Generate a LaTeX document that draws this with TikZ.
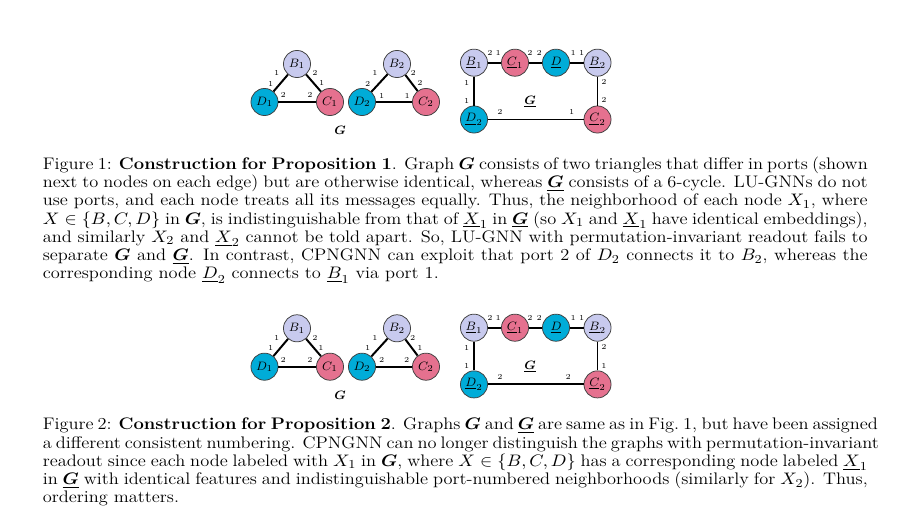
\documentclass[tikz,border=0pt]{standalone}
\usepackage{amsmath,amssymb,bm,graphicx}
\definecolor{nodeB}{RGB}{200,202,238}
\definecolor{nodeC}{RGB}{229,113,143}
\definecolor{nodeD}{RGB}{0,172,216}
\newcommand{\capline}[1]{\scalebox{1.1}[1]{\makebox[493.1pt][s]{#1}}}
\newcommand{\caplast}[1]{\scalebox{1.1}[1]{#1}}
\begin{document}
\begin{tikzpicture}[x=0.6575pt,y=-0.6575pt,
  vtx/.style={circle,draw=black!75,line width=0.5pt,minimum size=17.8pt,inner sep=0pt,font=\footnotesize},
  bv/.style={vtx,fill=nodeB}, cv/.style={vtx,fill=nodeC}, dv/.style={vtx,fill=nodeD},
  edge/.style={line width=1.3pt,black},
  port/.style={font=\tiny,inner sep=0pt},
  glabel/.style={font=\footnotesize,inner sep=0pt},
  caption/.style={anchor=base west,inner sep=0pt,align=left,font=\fontsize{11}{12}\selectfont}]
\useasboundingbox (0,0) rectangle (905,524);

% ---------------- Figure 1 ----------------
\node[bv] (aB1) at (297,64) {$B_1$};
\node[dv] (aD1) at (264.5,102) {$D_1$};
\node[cv] (aC1) at (330,102) {$C_1$};
\node[bv] (aB2) at (397,64) {$B_2$};
\node[dv] (aD2) at (362,102) {$D_2$};
\node[cv] (aC2) at (426,102) {$C_2$};
\draw[edge] (aB1) -- (aD1);
\draw[edge] (aB1) -- (aC1);
\draw[edge] (aD1) -- (aC1);
\draw[edge] (aB2) -- (aD2);
\draw[edge] (aB2) -- (aC2);
\draw[edge] (aD2) -- (aC2);
\node[port] (ap1) at (276.7,73.3) {1};
\node[port] (ap2) at (270.7,84) {1};
\node[port] (ap3) at (315,73.3) {2};
\node[port] (ap4) at (321.7,83.3) {1};
\node[port] (ap5) at (283.3,95) {2};
\node[port] (ap6) at (310,95) {2};
\node[port] (ap7) at (375,73.3) {1};
\node[port] (ap8) at (367.7,84) {2};
\node[port] (ap9) at (413.3,73.3) {2};
\node[port] (ap10) at (420,83.3) {2};
\node[port] (ap11) at (381.7,96) {1};
\node[port] (ap12) at (407.3,96) {1};
\node[glabel] (aG) at (340,130) {$\bm{G}$};

\node[bv] (uB1) at (474,62.7) {$\underline{B}_1$};
\node[cv] (uC1) at (515,62.7) {$\underline{C}_1$};
\node[dv] (uD) at (556,62.7) {$\underline{D}$};
\node[bv] (uB2) at (597.5,62.7) {$\underline{B}_2$};
\node[dv] (uD2) at (474,119.5) {$\underline{D}_2$};
\node[cv] (uC2) at (597.5,119.5) {$\underline{C}_2$};
\draw[edge] (uB1) -- (uC1);
\draw[edge] (uC1) -- (uD);
\draw[edge] (uD) -- (uB2);
\draw[edge] (uB2) -- (uC2);
\draw[edge] (uC2) -- (uD2);
\draw[edge] (uD2) -- (uB1);
\node[port] (up1) at (490,53.3) {2};
\node[port] (up2) at (498.3,53.3) {1};
\node[port] (up3) at (530,53.3) {2};
\node[port] (up4) at (539.3,53.3) {2};
\node[port] (up5) at (573.3,53.3) {1};
\node[port] (up6) at (581.7,53.3) {1};
\node[port] (up7) at (466.7,82.7) {1};
\node[port] (up8) at (466.7,100.7) {1};
\node[port] (up9) at (604,81.7) {2};
\node[port] (up10) at (604,100) {2};
\node[port] (up11) at (500,111.7) {2};
\node[port] (up12) at (571.7,111.7) {1};
\node[glabel] (uG) at (530,101.7) {$\underline{\bm{G}}$};

\node[caption] (cap1) at (42.5,279) {%
\capline{Figure 1: \textbf{Construction for Proposition 1}. Graph $\bm{G}$ consists of two triangles that differ in ports (shown}\\
\capline{next to nodes on each edge) but are otherwise identical, whereas $\underline{\bm{G}}$ consists of a 6-cycle. LU-GNNs do not}\\
\capline{use ports, and each node treats all its messages equally. Thus, the neighborhood of each node $X_1$, where}\\
\capline{$X\in\{B,C,D\}$ in $\bm{G}$, is indistinguishable from that of $\underline{X}_1$ in $\underline{\bm{G}}$ (so $X_1$ and $\underline{X}_1$ have identical embeddings),}\\
\capline{and similarly $X_2$ and $\underline{X}_2$ cannot be told apart. So, LU-GNN with permutation-invariant readout fails to}\\
\capline{separate $\bm{G}$ and $\underline{\bm{G}}$. In contrast, CPNGNN can exploit that port 2 of $D_2$ connects it to $B_2$, whereas the}\\
\caplast{corresponding node $\underline{D}_2$ connects to $\underline{B}_1$ via port 1.}};

% ---------------- Figure 2 ----------------
\node[bv] (bB1) at (297,328.3) {$B_1$};
\node[dv] (bD1) at (264.5,366.7) {$D_1$};
\node[cv] (bC1) at (330,366.7) {$C_1$};
\node[bv] (bB2) at (397,328.3) {$B_2$};
\node[dv] (bD2) at (362,366.7) {$D_2$};
\node[cv] (bC2) at (426,366.7) {$C_2$};
\draw[edge] (bB1) -- (bD1);
\draw[edge] (bB1) -- (bC1);
\draw[edge] (bD1) -- (bC1);
\draw[edge] (bB2) -- (bD2);
\draw[edge] (bB2) -- (bC2);
\draw[edge] (bD2) -- (bC2);
\node[port] (bp1) at (276.7,337.7) {1};
\node[port] (bp2) at (270.7,348.3) {1};
\node[port] (bp3) at (315,337.7) {2};
\node[port] (bp4) at (321,348.3) {1};
\node[port] (bp5) at (283.3,359.5) {2};
\node[port] (bp6) at (310,359.5) {2};
\node[port] (bp7) at (375,337.7) {1};
\node[port] (bp8) at (367.7,348.3) {1};
\node[port] (bp9) at (412.7,337.7) {2};
\node[port] (bp10) at (420,348.3) {1};
\node[port] (bp11) at (381.7,359.5) {2};
\node[port] (bp12) at (406.7,359.5) {2};
\node[glabel] (bG) at (340,395) {$\bm{G}$};

\node[bv] (vB1) at (474,327.7) {$\underline{B}_1$};
\node[cv] (vC1) at (515,327.7) {$\underline{C}_1$};
\node[dv] (vD) at (556,327.7) {$\underline{D}$};
\node[bv] (vB2) at (597.5,327.7) {$\underline{B}_2$};
\node[dv] (vD2) at (474,384.4) {$\underline{D}_2$};
\node[cv] (vC2) at (597.5,384.4) {$\underline{C}_2$};
\draw[edge] (vB1) -- (vC1);
\draw[edge] (vC1) -- (vD);
\draw[edge] (vD) -- (vB2);
\draw[edge] (vB2) -- (vC2);
\draw[edge] (vC2) -- (vD2);
\draw[edge] (vD2) -- (vB1);
\node[port] (vp1) at (490,317.7) {2};
\node[port] (vp2) at (498.3,317.7) {1};
\node[port] (vp3) at (530,317.7) {2};
\node[port] (vp4) at (539.3,317.7) {2};
\node[port] (vp5) at (573.3,317.7) {1};
\node[port] (vp6) at (581.7,317.7) {1};
\node[port] (vp7) at (466.7,347.7) {1};
\node[port] (vp8) at (466.7,365.7) {1};
\node[port] (vp9) at (604,346.7) {2};
\node[port] (vp10) at (604,365.7) {1};
\node[port] (vp11) at (500,376.7) {2};
\node[port] (vp12) at (568.3,376.7) {2};
\node[glabel] (vG) at (530,366.7) {$\underline{\bm{G}}$};

\node[caption] (cap2) at (42.5,503) {%
\capline{Figure 2: \textbf{Construction for Proposition 2}. Graphs $\bm{G}$ and $\underline{\bm{G}}$ are same as in Fig.~1, but have been assigned}\\
\capline{a different consistent numbering. CPNGNN can no longer distinguish the graphs with permutation-invariant}\\
\capline{readout since each node labeled with $X_1$ in $\bm{G}$, where $X\in\{B,C,D\}$ has a corresponding node labeled $\underline{X}_1$}\\
\capline{in $\underline{\bm{G}}$ with identical features and indistinguishable port-numbered neighborhoods (similarly for $X_2$). Thus,}\\
\caplast{ordering matters.}};
\end{tikzpicture}
\end{document}
